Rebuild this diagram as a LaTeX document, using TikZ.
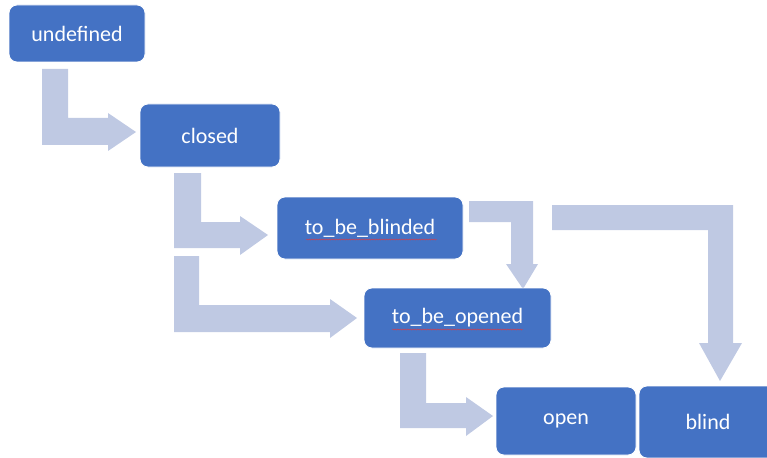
\documentclass[tikz,border=0pt]{standalone}
\usepackage{fontspec}
\setmainfont{Carlito}
\usetikzlibrary{decorations.pathmorphing}
\definecolor{boxblue}{RGB}{68,114,196}
\definecolor{arrowblue}{RGB}{191,201,227}
\definecolor{squig}{RGB}{215,60,70}
\tikzset{
  statebox/.style={fill=boxblue, draw=white, line width=0.8pt, rounded corners=8pt,
    text=white, font=\fontsize{22}{26}\selectfont, inner sep=0pt},
  blockarrow/.style={fill=arrowblue, draw=none},
  spell/.style={draw=squig, line width=0.45pt, decorate,
    decoration={snake, amplitude=0.5pt, segment length=2.5pt}}
}
\begin{document}
\begin{tikzpicture}[x=1pt,y=-1pt]
\useasboundingbox (0,0) rectangle (767,457);
\clip (0,0) rectangle (767,457);
% block arrows
\fill[blockarrow] (42,69) -- (68,69) -- (68,118) -- (108,118) -- (108,113) -- (136,132) -- (108,151) -- (108,145) -- (42,145) -- cycle;
\fill[blockarrow] (174,173) -- (201,173) -- (201,222) -- (240,222) -- (240,216) -- (268,235) -- (240,255) -- (240,248) -- (174,248) -- cycle;
\fill[blockarrow] (174,256) -- (199,256) -- (199,305) -- (330,305) -- (330,299) -- (357,318) -- (330,338) -- (330,332) -- (174,332) -- cycle;
\fill[blockarrow] (469,201) -- (533,201) -- (533,264) -- (538,264) -- (523,289) -- (506,264) -- (511,264) -- (511,222) -- (469,222) -- cycle;
\fill[blockarrow] (552,205) -- (733,205) -- (733,343) -- (742,343) -- (720,381) -- (699,343) -- (708,343) -- (708,230) -- (552,230) -- cycle;
\fill[blockarrow] (400,353) -- (426,353) -- (426,403) -- (466,403) -- (466,397) -- (493,416) -- (466,436) -- (466,428) -- (400,428) -- cycle;
% states
\node[statebox, minimum width=136pt, minimum height=57pt] (undef) at (77,33.5) {undefined};
\node[statebox, minimum width=140pt, minimum height=63pt] (closed) at (210,135.5) {closed};
\node[statebox, minimum width=186pt, minimum height=62pt] (tbb) at (370,228) {to\_be\_blinded};
\node[statebox, minimum width=187pt, minimum height=60pt] (tbo) at (457.5,318) {to\_be\_opened};
\node[statebox, minimum width=140pt, minimum height=68pt] (open) at (566,421) {open};
\node[statebox, minimum width=138pt, minimum height=72pt] (blind) at (708,422) {blind};
% spell-check underlines
\draw[spell] (306,239.5) -- (437,239.5);
\draw[spell] (392,329.5) -- (523,329.5);
\end{tikzpicture}
\end{document}
